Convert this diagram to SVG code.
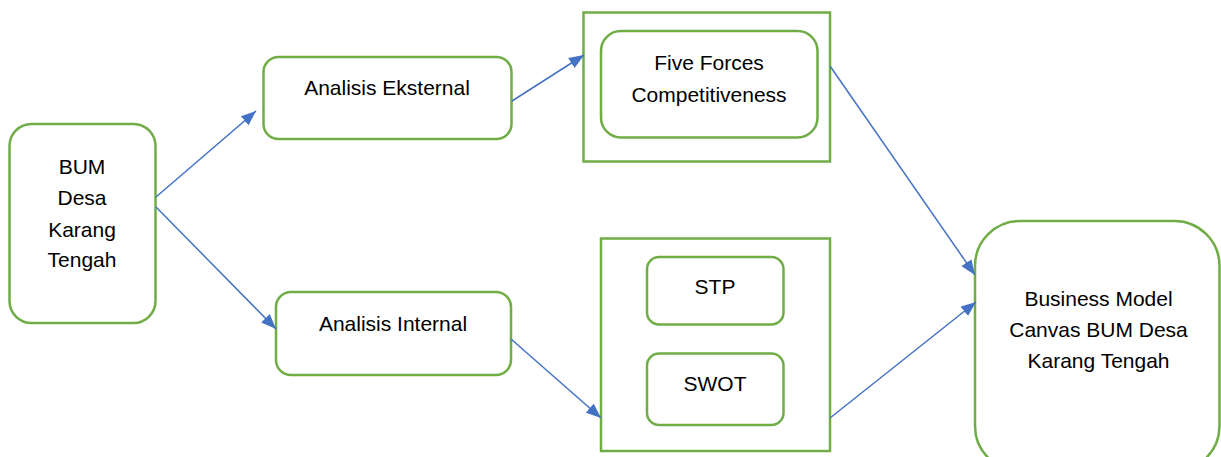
<svg xmlns="http://www.w3.org/2000/svg" width="1221" height="457" viewBox="0 0 1221 457">
<style>
.box{fill:#fff;stroke:#70AD47;stroke-width:2.5}
.t{font-family:"Liberation Sans",Arial,sans-serif;font-size:21px;fill:#000;text-anchor:middle}
.c{stroke:#4472C4;stroke-width:1.5;fill:none;marker-end:url(#ah)}
</style>
<defs>
<marker id="ah" markerUnits="userSpaceOnUse" markerWidth="16" markerHeight="12" refX="15" refY="6" orient="auto">
<path d="M0,0 L15,6 L0,12 z" fill="#4472C4"/>
</marker>
</defs>
<rect width="1221" height="457" fill="#fff"/>
<g id="n-bum">
<rect class="box" x="9.5" y="124" width="146" height="199" rx="22"/>
<text class="t" x="82" y="174">BUM</text>
<text class="t" x="82" y="205">Desa</text>
<text class="t" x="82" y="237">Karang</text>
<text class="t" x="82" y="267">Tengah</text>
</g>
<g id="n-ext">
<rect class="box" x="263.5" y="57" width="248" height="82" rx="15"/>
<text class="t" x="387" y="95">Analisis Eksternal</text>
</g>
<g id="n-int">
<rect class="box" x="276" y="292" width="235" height="83" rx="15"/>
<text class="t" x="393" y="331">Analisis Internal</text>
</g>
<g id="n-ff-container">
<rect class="box" x="583.5" y="12.5" width="246.5" height="149"/>
</g>
<g id="n-ff">
<rect class="box" x="601" y="31" width="216.5" height="106.5" rx="20"/>
<text class="t" x="709" y="70">Five Forces</text>
<text class="t" x="709" y="101.5">Competitiveness</text>
</g>
<g id="n-int-container">
<rect class="box" x="601" y="238.5" width="229" height="212.5"/>
</g>
<g id="n-stp">
<rect class="box" x="647" y="257" width="136.5" height="67.5" rx="12"/>
<text class="t" x="715" y="294">STP</text>
</g>
<g id="n-swot">
<rect class="box" x="647" y="353.5" width="136.5" height="71.5" rx="12"/>
<text class="t" x="715" y="391">SWOT</text>
</g>
<g id="n-bmc">
<rect class="box" x="975" y="221" width="244.5" height="250" rx="45"/>
<text class="t" x="1098.5" y="306">Business Model</text>
<text class="t" x="1098.5" y="337">Canvas BUM Desa</text>
<text class="t" x="1098.5" y="368">Karang Tengah</text>
</g>
<g id="connectors">
<line class="c" x1="156" y1="197" x2="256" y2="111"/>
<line class="c" x1="156" y1="207" x2="276" y2="329"/>
<line class="c" x1="512" y1="101" x2="584" y2="55"/>
<line class="c" x1="511" y1="339" x2="601" y2="418"/>
<line class="c" x1="830" y1="66" x2="975" y2="275"/>
<line class="c" x1="830" y1="418" x2="976" y2="302"/>
</g>
</svg>
